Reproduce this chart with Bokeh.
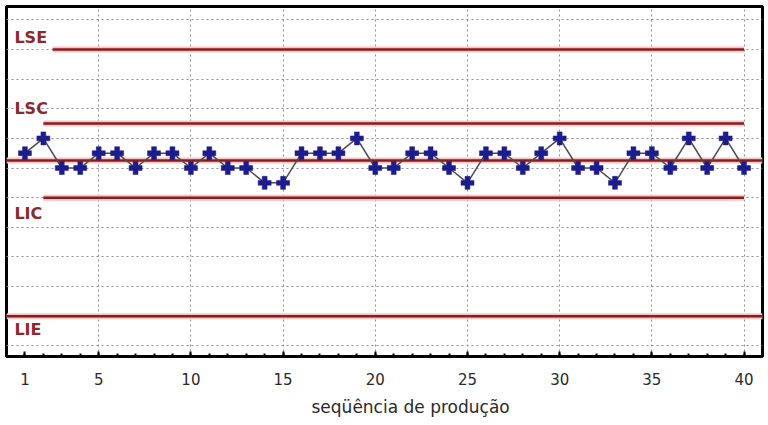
from bokeh.plotting import figure
from bokeh.models import FixedTicker, Label, LinearAxis, Range1d, Title
from bokeh.embed import file_html
from bokeh.resources import INLINE

# --- data ---
seq = list(range(1, 41))
values = [0.5, 1, 0, 0, 0.5, 0.5, 0, 0.5, 0.5, 0,
          0.5, 0, 0, -0.5, -0.5, 0.5, 0.5, 0.5, 1, 0,
          0, 0.5, 0.5, 0, -0.5, 0.5, 0.5, 0, 0.5, 1,
          0, 0, -0.5, 0.5, 0.5, 0, 1, 0, 1, 0]
limit_names = ["LSE", "LSC", "Centro", "LIC", "LIE"]
limit_values = [4.0, 1.5, 0.25, -1.0, -5.0]
limit_start = [2.5, 2.0, 0.0, 2.0, 0.0]
limit_end = [40.0, 40.0, 41.0, 40.0, 41.0]
label_names = ["LSE", "LSC", "LIC", "LIE"]
label_y = [4.42, 2.02, -1.52, -5.45]
x_ticks = [1, 5, 10, 15, 20, 25, 30, 35, 40]
x_grid = [5, 10, 15, 20, 25, 30, 35, 40]
y_grid = list(range(-6, 6))
x_title = "seqüência de produção"

p = figure(width=766, height=423, output_backend="svg", toolbar_location=None,
           x_range=Range1d(0, 41), y_range=Range1d(-6.36, 5.45),
           min_border_left=6, min_border_right=4, min_border_top=6,
           min_border_bottom=66,
           x_axis_location=None, y_axis_location=None)
p.background_fill_color = "white"
p.border_fill_color = "white"
p.outline_line_color = "black"
p.outline_line_width = 3

# grids
p.xgrid.ticker = FixedTicker(ticks=x_grid)
p.ygrid.ticker = FixedTicker(ticks=y_grid)
for g in (p.xgrid, p.ygrid):
    g.grid_line_color = "#8f8f8f"
    g.grid_line_dash = "2 3"
    g.grid_line_width = 1

# bottom axis with labels
xa = LinearAxis(ticker=FixedTicker(ticks=x_ticks, minor_ticks=seq))
xa.axis_line_color = None
xa.major_tick_in = 5
xa.major_tick_out = 0
xa.minor_tick_in = 3
xa.minor_tick_out = 0
xa.major_tick_line_color = "black"
xa.major_tick_line_width = 2
xa.minor_tick_line_color = "black"
xa.minor_tick_line_width = 2
xa.major_label_text_font = "DejaVu Sans"
xa.major_label_text_font_size = "15px"
xa.major_label_text_color = "#2a2a2a"
xa.major_label_standoff = 16
p.add_layout(xa, "below")

# x title, placed under the data like the reference
p.add_layout(Title(text=x_title, align="left", offset=305, standoff=14,
                   text_font="DejaVu Sans", text_font_size="17px",
                   text_font_style="normal", text_color="#2a2a2a"), "below")

# limit lines
p.segment(x0=limit_start, y0=limit_values, x1=limit_end, y1=limit_values,
          line_color="#f2c6c6", line_width=6)
p.segment(x0=limit_start, y0=limit_values, x1=limit_end, y1=limit_values,
          line_color="#8b1c1c", line_width=2.5)

# series
p.line(seq, values, line_color="#4d4d4d", line_width=1.5)
p.scatter(seq, values, marker="plus", size=13, fill_color="#1c1c8c",
          line_color="#1c1c8c", line_width=0.5)

for name, yy in zip(label_names, label_y):
    p.add_layout(Label(x=0.43, y=yy, text=name, text_baseline="middle",
                       text_font="DejaVu Sans", text_font_size="16px",
                       text_font_style="bold", text_color="#8c2a2a"))

open("out.html", "w").write(file_html(p, INLINE))
